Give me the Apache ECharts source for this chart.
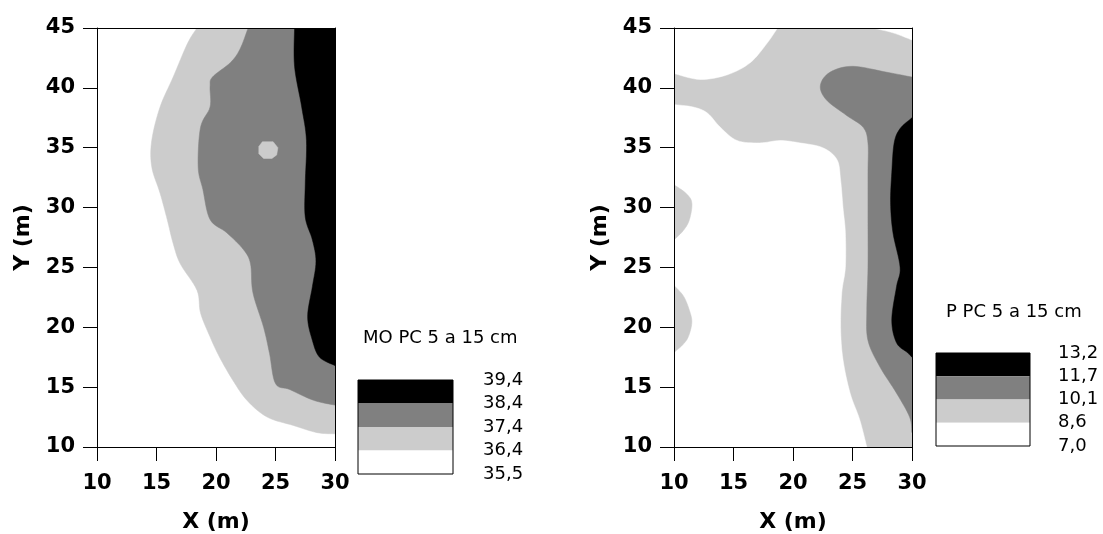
<!DOCTYPE html>
<html>
<head>
<meta charset="utf-8">
<script src="https://cdn.jsdelivr.net/npm/echarts/dist/echarts.min.js"></script>
<style>
html,body{margin:0;padding:0;background:#ffffff;}
#chart{width:1103px;height:534px;}
</style>
</head>
<body>
<div id="chart"></div>
<script>
// ---- Axis ranges ----
const xRange = [10, 30];
const yRange = [10, 45];
const tickStep = 5;

// ---- Left map: MO PC 5 a 15 cm (contour boundaries, data coords) ----
const moLight = [[18.4,45],[17.6,43.7],[16.4,40.9],[15.3,38.4],[14.6,35.6],[14.6,33.4],[15.3,31.2],[15.9,29.0],[16.4,27.0],[17.0,25.3],[18.4,23.1],[18.7,21.2],[19.5,19.2],[20.3,17.5],[21.4,15.6],[22.6,13.9],[24.3,12.5],[26.5,11.8],[28.5,11.2],[30,11.1]];
const moMid = [[22.7,45],[22.0,43.2],[21.2,42.1],[19.7,40.9],[19.5,40.1],[19.5,38.4],[18.7,36.7],[18.5,33.4],[18.9,31.5],[19.5,29.0],[20.9,27.9],[22.3,26.5],[22.9,25.3],[23.1,22.9],[24.0,20.0],[24.5,17.8],[25.0,15.3],[26.2,14.8],[28.2,13.9],[30,13.5]];
const moDark = [[26.6,45],[26.6,41.8],[27.2,38.4],[27.6,35.6],[27.5,32.0],[27.5,29.2],[28.1,27.3],[28.4,25.5],[28.1,23.4],[27.7,20.9],[28.1,18.9],[28.7,17.5],[30,16.8]];
const moCorner = [[30,45]];
const moSpot = [[23.9,35.5],[24.8,35.5],[25.2,35.0],[25.1,34.4],[24.7,34.1],[24.0,34.1],[23.6,34.5],[23.6,35.1]];
const moLegendTitle = 'MO PC 5 a 15 cm';
const moLegendLabels = ['39,4','38,4','37,4','36,4','35,5'];

// ---- Right map: P PC 5 a 15 cm ----
const pFull = [[10,10],[30,10],[30,45],[10,45]];
const pWhiteTopLeft = [[18.7,45],[17.8,43.7],[16.4,42.1],[14.5,41.1],[12.2,40.7],[10,41.2]];
const pWhiteTopLeftCorner = [[10,45]];
const pWhiteTopRight = [[26.7,45],[28.4,44.6],[30,44.0]];
const pWhiteTopRightCorner = [[30,45]];
const pWhiteMain = [[10,38.6],[11.6,38.4],[12.8,37.9],[13.9,36.7],[15.3,35.6],[17.2,35.4],[18.9,35.6],[20.6,35.4],[22.5,35.0],[23.7,34.0],[24.0,32.3],[24.2,30.0],[24.4,27.9],[24.4,25.0],[24.1,22.9],[24.0,20.0],[24.2,17.3],[24.8,14.5],[25.6,12.3],[26.2,10]];
const pWhiteMainCorner = [[10,10]];
const pLightBlob1 = [[10,31.9],[11.0,31.2],[11.5,30.4],[11.3,29.0],[10.8,28.1],[10,27.3]];
const pLightBlob2 = [[10,23.5],[10.8,22.6],[11.3,21.4],[11.5,20.4],[11.2,19.2],[10.7,18.5],[10,17.9]];
const pMid = [[30,40.9],[27.9,41.3],[25.0,41.8],[23.1,41.3],[22.3,40.2],[22.8,39.0],[24.5,37.7],[25.9,36.7],[26.3,35.4],[26.3,32.9],[26.3,29.2],[26.3,25.0],[26.2,21.4],[26.3,18.9],[27.3,16.7],[28.7,14.5],[29.8,12.5],[30,11.2]];
const pDark = [[30,37.5],[29.0,36.6],[28.5,35.4],[28.3,32.9],[28.2,30.4],[28.4,27.9],[29.0,25.0],[28.7,23.4],[28.3,20.6],[28.7,18.7],[29.6,17.9],[30,17.5]];
const pLegendTitle = 'P PC 5 a 15 cm';
const pLegendLabels = ['13,2','11,7','10,1','8,6','7,0'];

// ---- Styles ----
const C_WHITE = '#ffffff', C_LIGHT = '#cccccc', C_MID = '#808080', C_DARK = '#000000';
const legendColors = [C_DARK, C_MID, C_LIGHT, C_WHITE];
const FONT = 'DejaVu Sans';

// drawing-level curve through the boundary's pixel points (Catmull-Rom)
function curveThrough(pts, seg) {
  const n = pts.length;
  if (n < 3) return pts.slice();
  const out = [];
  for (let i = 0; i < n - 1; i++) {
    const p0 = pts[Math.max(i - 1, 0)], p1 = pts[i], p2 = pts[i + 1], p3 = pts[Math.min(i + 2, n - 1)];
    for (let s = 0; s < seg; s++) {
      const t = s / seg, t2 = t * t, t3 = t2 * t;
      const f = function (a, b, c, d) {
        return 0.5 * ((2 * b) + (-a + c) * t + (2 * a - 5 * b + 4 * c - d) * t2 + (-a + 3 * b - 3 * c + d) * t3);
      };
      out.push([f(p0[0], p1[0], p2[0], p3[0]), f(p0[1], p1[1], p2[1], p3[1])]);
    }
  }
  out.push(pts[n - 1]);
  return out;
}

function polySeries(axisIdx, boundary, corners, color, smooth) {
  const all = boundary.concat(corners || []);
  return {
    type: 'custom', xAxisIndex: axisIdx, yAxisIndex: axisIdx, silent: true, clip: true,
    data: all, z: 2,
    renderItem: function (params, api) {
      if (params.dataIndex !== 0) return null;
      const b = boundary.map(function (p) { return api.coord(p); });
      const c = (corners || []).map(function (p) { return api.coord(p); });
      const pts = (smooth === false ? b : curveThrough(b, 8)).concat(c);
      return { type: 'polygon', shape: { points: pts }, style: { fill: color, stroke: color, lineWidth: 0.5 } };
    }
  };
}

const lbl = { color: '#000', fontFamily: FONT, fontWeight: 'bold', fontSize: 21, showMinLabel: true, showMaxLabel: true };
const nameStyle = { color: '#000', fontFamily: FONT, fontWeight: 'bold', fontSize: 22 };
const lineStyle = { color: '#000', width: 1 };

function xAxes(gi) {
  return [
    { gridIndex: gi, type: 'value', min: xRange[0], max: xRange[1], interval: tickStep, position: 'bottom', z: 10,
      axisLine: { show: true, onZero: false, lineStyle: lineStyle },
      axisTick: { show: true, length: 14, lineStyle: lineStyle },
      axisLabel: Object.assign({ margin: 26 }, lbl), splitLine: { show: false },
      name: 'X (m)', nameLocation: 'middle', nameGap: 64, nameTextStyle: nameStyle },
    { gridIndex: gi, type: 'value', min: xRange[0], max: xRange[1], interval: tickStep, position: 'top', z: 10,
      axisLine: { show: true, onZero: false, lineStyle: lineStyle },
      axisTick: { show: false }, axisLabel: { show: false }, splitLine: { show: false } }
  ];
}
function yAxes(gi) {
  return [
    { gridIndex: gi, type: 'value', min: yRange[0], max: yRange[1], interval: tickStep, position: 'left', z: 10,
      axisLine: { show: true, onZero: false, lineStyle: lineStyle },
      axisTick: { show: true, length: 14, lineStyle: lineStyle },
      axisLabel: Object.assign({ margin: 22 }, lbl), splitLine: { show: false },
      name: 'Y (m)', nameLocation: 'middle', nameGap: 63, nameRotate: 90, nameTextStyle: nameStyle },
    { gridIndex: gi, type: 'value', min: yRange[0], max: yRange[1], interval: tickStep, position: 'right', z: 10,
      axisLine: { show: true, onZero: false, lineStyle: lineStyle },
      axisTick: { show: false }, axisLabel: { show: false }, splitLine: { show: false } }
  ];
}

function legendGraphic(x, y, w, h, title, titleX, titleY, labels, labelX) {
  const els = [];
  const bh = h / legendColors.length;
  els.push({ type: 'text', x: titleX, y: titleY, style: { text: title, font: '18px "' + FONT + '"', fill: '#000', align: 'left', verticalAlign: 'middle' } });
  legendColors.forEach(function (c, i) {
    els.push({ type: 'rect', shape: { x: x, y: y + i * bh, width: w, height: bh }, style: { fill: c } });
  });
  els.push({ type: 'rect', shape: { x: x, y: y, width: w, height: h }, style: { fill: 'none', stroke: '#000', lineWidth: 1 } });
  labels.forEach(function (t, i) {
    els.push({ type: 'text', x: labelX, y: y + i * bh, style: { text: t, font: '18px "' + FONT + '"', fill: '#000', align: 'left', verticalAlign: 'middle' } });
  });
  return els;
}

const chart = echarts.init(document.getElementById('chart'), null, { renderer: 'canvas' });
chart.setOption({
  backgroundColor: '#ffffff',
  animation: false,
  grid: [
    { left: 97, top: 28, width: 238, height: 419, containLabel: false, outerBoundsMode: 'none' },
    { left: 674, top: 28, width: 238, height: 419, containLabel: false, outerBoundsMode: 'none' }
  ],
  xAxis: xAxes(0).concat(xAxes(1)),
  yAxis: yAxes(0).concat(yAxes(1)),
  series: [
    polySeries(0, moLight, moCorner, C_LIGHT),
    polySeries(0, moMid, moCorner, C_MID),
    polySeries(0, moDark, moCorner, C_DARK),
    polySeries(0, moSpot, [], C_LIGHT, false),
    polySeries(2, pFull, [], C_LIGHT, false),
    polySeries(2, pWhiteTopLeft, pWhiteTopLeftCorner, C_WHITE),
    polySeries(2, pWhiteTopRight, pWhiteTopRightCorner, C_WHITE),
    polySeries(2, pWhiteMain, pWhiteMainCorner, C_WHITE),
    polySeries(2, pLightBlob1, [], C_LIGHT),
    polySeries(2, pLightBlob2, [], C_LIGHT),
    polySeries(2, pMid, [], C_MID),
    polySeries(2, pDark, [], C_DARK)
  ],
  graphic: legendGraphic(358, 380, 95, 94, moLegendTitle, 363, 338, moLegendLabels, 483)
    .concat(legendGraphic(936, 353, 94, 93, pLegendTitle, 946, 312, pLegendLabels, 1058))
});
</script>
</body>
</html>
